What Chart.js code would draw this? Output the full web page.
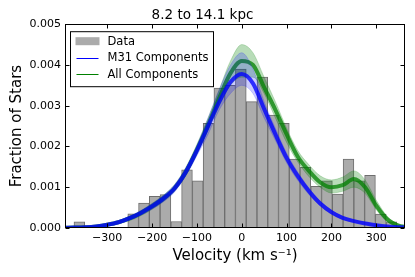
<!DOCTYPE html>
<html>
<head>
<meta charset="utf-8">
<script src="https://cdn.jsdelivr.net/npm/chart.js@4.4.1/dist/chart.umd.min.js"></script>
<style>
  html, body { margin: 0; padding: 0; background: #fff; }
</style>
</head>
<body>
<canvas id="velHist" width="415" height="277"></canvas>
<script>
// histogram bins (bin centres, km/s) and fraction of stars per km/s
const binCenters = [-362, -338, -314, -290, -266, -242, -218, -194, -170, -146,
                    -122, -98, -74, -50, -26, -2, 22, 46, 70, 94,
                    118, 142, 166, 190, 214, 238, 262, 286, 310, 334];
const dataFrac = [0.00015, 0, 0, 0, 0, 0.00035, 0.00061, 0.00078, 0.00082, 0.00016,
                  0.00143, 0.00116, 0.00257, 0.00343, 0.0035, 0.0039, 0.0031, 0.0037, 0.00277, 0.00257,
                  0.00169, 0.00149, 0.00102, 0.00116, 0.00083, 0.00169, 0.00116, 0.00129, 0.00034, 0.00015];

// model curves (centre of the bundle and its upper / lower edge)
const velGrid = [-394, -375, -350, -325, -300, -275, -250, -225, -200, -175, -150, -125, -100, -75, -50, -25,
                 0, 25, 50, 75, 100, 125, 150, 175, 200, 225, 250, 275, 300, 325, 350, 364];
const m31Mid = [0.000005, 0.00001, 0.00002, 0.00004, 0.00008, 0.00014, 0.00024, 0.00037, 0.00053, 0.00072, 0.00097, 0.00137, 0.0019, 0.0025, 0.0031, 0.00358,
                0.00378, 0.00355, 0.00292, 0.0023, 0.00172, 0.00127, 0.0009, 0.0006, 0.00039, 0.00025, 0.00017, 0.00011, 0.00007, 0.00004, 0.00002, 0.000015];
const m31Hi = [0.00001, 0.00002, 0.00003, 0.00006, 0.0001, 0.00018, 0.00029, 0.00043, 0.0006, 0.0008, 0.00106, 0.00147, 0.00203, 0.0027, 0.0034, 0.004,
               0.0043, 0.0039, 0.0031, 0.00245, 0.00184, 0.00137, 0.00098, 0.00066, 0.00044, 0.00028, 0.0002, 0.00014, 0.00009, 0.00005, 0.00003, 0.00002];
const m31Lo = [0, 0.000005, 0.00001, 0.00002, 0.00005, 0.0001, 0.00019, 0.00031, 0.00046, 0.00064, 0.00088, 0.00127, 0.00177, 0.0023, 0.0029, 0.0033,
               0.0035, 0.0033, 0.0027, 0.00215, 0.0016, 0.00117, 0.00082, 0.00054, 0.00034, 0.00021, 0.00014, 0.00009, 0.00005, 0.00003, 0.00001, 0.00001];
const allMid = [0.000005, 0.00001, 0.00002, 0.00004, 0.00008, 0.00014, 0.00024, 0.00037, 0.00053, 0.00072, 0.00097, 0.00137, 0.00192, 0.00253, 0.0032, 0.0038,
                0.0041, 0.004, 0.00345, 0.0029, 0.0023, 0.00175, 0.0014, 0.00112, 0.001, 0.00105, 0.0012, 0.001, 0.00055, 0.00021, 0.00006, 0.00003];
const allHi = [0.00001, 0.00002, 0.00003, 0.00006, 0.0001, 0.00017, 0.00028, 0.00042, 0.0006, 0.0008, 0.00106, 0.00148, 0.00205, 0.0027, 0.0034, 0.0041,
               0.0045, 0.0043, 0.0037, 0.0031, 0.00245, 0.0019, 0.00155, 0.00128, 0.00118, 0.00125, 0.0014, 0.00118, 0.00068, 0.00028, 0.00009, 0.00005];
const allLo = [0, 0.000005, 0.00001, 0.00003, 0.00005, 0.0001, 0.00018, 0.0003, 0.00046, 0.00065, 0.0009, 0.00128, 0.0018, 0.0024, 0.003, 0.0035,
               0.0037, 0.0037, 0.0033, 0.0027, 0.0021, 0.00162, 0.00126, 0.001, 0.00086, 0.0009, 0.001, 0.00085, 0.00045, 0.00015, 0.00004, 0.00002];

const xTicks = [-300, -200, -100, 0, 100, 200, 300];
const yTicks = [0, 0.001, 0.002, 0.003, 0.004, 0.005];
const legendLabels = ['Data', 'M31 Components', 'All Components'];

const FONT = 'DejaVu Sans';
const GRAY = '#ababab';
const BLUE = '#0000ff';
const GREEN = '#008000';

const pts = ys => velGrid.map((x, i) => ({ x, y: ys[i] }));
const lineDs = (ys, color, width, order, extra) => Object.assign({
    type: 'line',
    data: pts(ys),
    borderColor: color,
    borderWidth: width,
    pointRadius: 0,
    cubicInterpolationMode: 'monotone',
    fill: false,
    order
}, extra || {});

// box + inward ticks on all four sides (classic matplotlib look)
const frameTicks = {
    id: 'frameTicks',
    afterDatasetsDraw(chart) {
        const { ctx, chartArea: a, scales: { x, y } } = chart;
        const L = Math.round(a.left) + 0.5, R = Math.round(a.right) - 0.5;
        const T = Math.round(a.top) + 0.5, B = Math.round(a.bottom) - 0.5;
        ctx.save();
        ctx.strokeStyle = '#000';
        ctx.lineWidth = 1;
        ctx.beginPath();
        xTicks.forEach(v => {
            const px = Math.round(x.getPixelForValue(v)) + 0.5;
            ctx.moveTo(px, B); ctx.lineTo(px, B - 4);
            ctx.moveTo(px, T); ctx.lineTo(px, T + 4);
        });
        yTicks.forEach(v => {
            const py = Math.round(y.getPixelForValue(v)) + 0.5;
            ctx.moveTo(L, py); ctx.lineTo(L + 4, py);
            ctx.moveTo(R, py); ctx.lineTo(R - 4, py);
        });
        ctx.stroke();
        ctx.strokeRect(L, T, R - L, B - T);
        ctx.restore();
    }
};

// legend inside the plot, upper left
const boxLegend = {
    id: 'boxLegend',
    afterDraw(chart) {
        const { ctx, chartArea: a } = chart;
        const x0 = a.left + 5.5, y0 = a.top + 7.5, w = 143, h = 55, row = 16.5;
        ctx.save();
        ctx.fillStyle = '#fff';
        ctx.fillRect(x0, y0, w, h);
        ctx.strokeStyle = '#000';
        ctx.lineWidth = 1;
        ctx.strokeRect(x0, y0, w, h);
        ctx.font = `11.5px ${FONT}`;
        ctx.textBaseline = 'middle';
        legendLabels.forEach((lab, i) => {
            const cy = y0 + 9.5 + i * row;
            if (i === 0) {
                ctx.fillStyle = GRAY;
                ctx.fillRect(x0 + 5, cy - 4, 24, 8);
            } else {
                ctx.strokeStyle = i === 1 ? BLUE : GREEN;
                ctx.beginPath();
                ctx.moveTo(x0 + 6, Math.round(cy) + 0.5);
                ctx.lineTo(x0 + 28, Math.round(cy) + 0.5);
                ctx.stroke();
            }
            ctx.fillStyle = '#000';
            ctx.fillText(lab, x0 + 37, cy + 0.5);
        });
        ctx.restore();
    }
};

const chart = new Chart(document.getElementById('velHist'), {
    type: 'bar',
    data: {
        datasets: [
            lineDs(m31Hi, 'rgba(0,0,255,0.22)', 0.8, 1, { fill: '+1', backgroundColor: 'rgba(0,0,255,0.2)' }),
            lineDs(m31Lo, 'rgba(0,0,255,0.22)', 0.8, 1),
            lineDs(m31Mid, 'rgba(0,0,255,0.78)', 4, 0),
            lineDs(allHi, 'rgba(0,128,0,0.25)', 0.8, 3, { fill: '+1', backgroundColor: 'rgba(0,128,0,0.28)' }),
            lineDs(allLo, 'rgba(0,128,0,0.25)', 0.8, 3),
            lineDs(allMid, 'rgba(0,128,0,0.75)', 4, 2),
            {
                type: 'bar',
                data: binCenters.map((x, i) => ({ x, y: dataFrac[i] })),
                backgroundColor: GRAY,
                borderColor: '#6e6e6e',
                borderWidth: 1,
                borderSkipped: 'bottom',
                barPercentage: 1,
                categoryPercentage: 1,
                grouped: false,
                order: 5
            }
        ]
    },
    options: {
        responsive: false,
        animation: false,
        devicePixelRatio: 1,
        layout: { padding: { top: 0, right: 10, left: 0, bottom: 0 } },
        plugins: {
            legend: { display: false },
            tooltip: { enabled: false },
            title: {
                display: true,
                text: '8.2 to 14.1 kpc',
                color: '#000',
                font: { family: FONT, size: 13.5, weight: 'normal' },
                padding: { top: 7, bottom: 1 }
            }
        },
        scales: {
            x: {
                type: 'linear',
                min: -394,
                max: 364,
                offset: false,
                grid: { display: false, drawTicks: false },
                border: { display: false },
                afterBuildTicks: s => { s.ticks = xTicks.map(v => ({ value: v })); },
                afterFit: s => { s.height = 49; },
                ticks: {
                    padding: 4,
                    color: '#000',
                    font: { family: FONT, size: 11 },
                    maxRotation: 0,
                    callback: v => (v < 0 ? '\u2212' + Math.abs(v) : String(v))
                },
                title: {
                    display: true,
                    text: 'Velocity (km s\u207B\u00B9)',
                    color: '#000',
                    font: { family: FONT, size: 15 },
                    padding: { top: 0, bottom: 12 }
                }
            },
            y: {
                min: 0,
                max: 0.005,
                grid: { display: false, drawTicks: false },
                border: { display: false },
                afterBuildTicks: s => { s.ticks = yTicks.map(v => ({ value: v })); },
                afterFit: s => { s.width = 65; },
                ticks: {
                    padding: 4,
                    color: '#000',
                    font: { family: FONT, size: 11 },
                    callback: v => v.toFixed(3)
                },
                title: {
                    display: true,
                    text: 'Fraction of Stars',
                    color: '#000',
                    font: { family: FONT, size: 15 },
                    padding: { top: 8, bottom: 0 }
                }
            }
        }
    },
    plugins: [frameTicks, boxLegend]
});
</script>
</body>
</html>
